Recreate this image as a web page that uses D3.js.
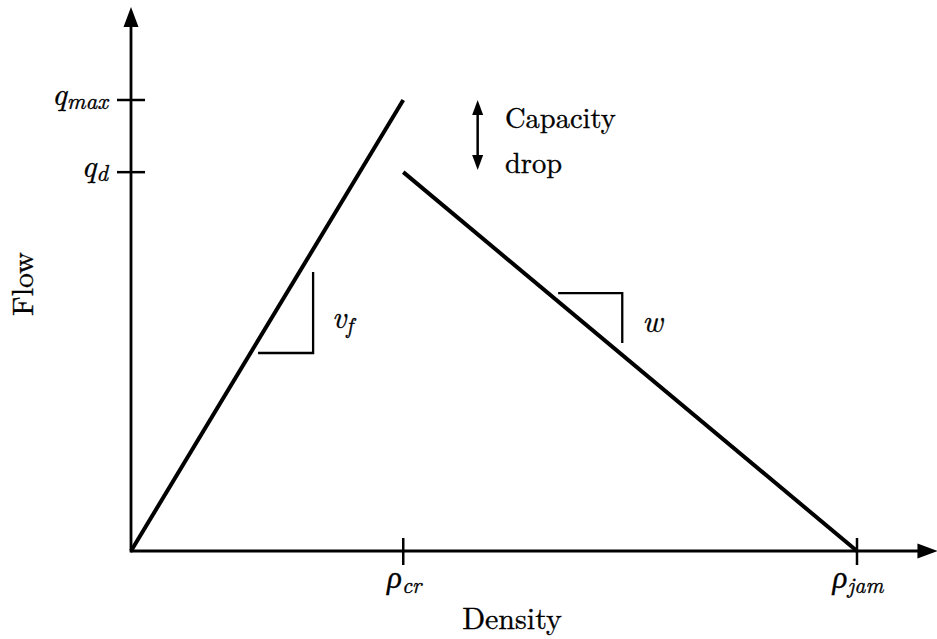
<!DOCTYPE html>
<html>
<head>
<meta charset="utf-8">
<script src="https://cdn.jsdelivr.net/npm/d3@7"></script>
<style>
  html, body { margin: 0; padding: 0; background: #fff; }
  svg { display: block; }
</style>
</head>
<body>
<svg id="chart" width="937" height="639"></svg>
<script>
// Triangular fundamental diagram with capacity drop
const densityTicks = [
  { key: "cr", value: 45 },
  { key: "jam", value: 120 }
];
const flowTicks = [
  { key: "max", value: 2000 },
  { key: "d", value: 1680 }
];
// Free-flow branch and congested branch (density, flow)
const freeFlowBranch = [[0, 0], [45, 2000]];
const congestedBranch = [[45, 1680], [120, 0]];
// Slope markers
const vfMarker = [[21, 878], [30.1, 878], [30.1, 1237]];
const wMarker = [[70.6, 1144], [81.2, 1144], [81.2, 922]];
const dropArrow = { density: 57.3, from: 2000, to: 1690 };

const FONT = '"Latin Modern Roman", "CMU Serif", "Liberation Serif", serif';

const svg = d3.select("#chart");
const x = d3.scaleLinear().domain([0, 120]).range([131, 857]);
const y = d3.scaleLinear().domain([0, 2000]).range([551, 100]);
const xEnd = 133.3, yEnd = 2412;

const line = d3.line().x(d => x(d[0])).y(d => y(d[1]));

function label(sel) {
  return sel.style("font-family", FONT).attr("fill", "#000")
    .attr("stroke", "#000").attr("stroke-width", 0.35);
}

// Axes
svg.append("line").attr("x1", x(0)).attr("y1", y(0)).attr("x2", x(xEnd) - 18).attr("y2", y(0))
  .attr("stroke", "#000").attr("stroke-width", 2.8);
svg.append("line").attr("x1", x(0)).attr("y1", y(0) + 1.4).attr("x2", x(0)).attr("y2", y(yEnd) + 18)
  .attr("stroke", "#000").attr("stroke-width", 2.8);
// Axis arrowheads
const ax = x(xEnd), ay = y(0);
svg.append("path").attr("d", `M${ax},${ay} L${ax - 20},${ay - 7.5} L${ax - 20},${ay + 7.5} Z`).attr("fill", "#000");
const bx = x(0), by = y(yEnd);
svg.append("path").attr("d", `M${bx},${by} L${bx - 7.5},${by + 20} L${bx + 7.5},${by + 20} Z`).attr("fill", "#000");

// Ticks
svg.selectAll(".xtick").data(densityTicks).join("line")
  .attr("x1", d => x(d.value)).attr("x2", d => x(d.value))
  .attr("y1", y(0) - 13).attr("y2", y(0) + 14)
  .attr("stroke", "#000").attr("stroke-width", 2.5);
svg.selectAll(".ytick").data(flowTicks).join("line")
  .attr("y1", d => y(d.value)).attr("y2", d => y(d.value))
  .attr("x1", x(0) - 14).attr("x2", x(0) + 14)
  .attr("stroke", "#000").attr("stroke-width", 2.5);

// Tick labels: rho_cr, rho_jam
svg.selectAll(".xlab").data(densityTicks).join("text")
  .call(label)
  .attr("x", d => x(d.value) + 1).attr("y", 588)
  .attr("text-anchor", "middle").attr("font-size", 31)
  .each(function(d) {
    const t = d3.select(this);
    t.append("tspan").attr("font-style", "italic").text("ρ");
    t.append("tspan").attr("font-style", "italic").attr("font-size", 22).attr("dy", 5).text(d.key);
  });
// Tick labels: q_max, q_d
svg.selectAll(".ylab").data(flowTicks).join("text")
  .call(label)
  .attr("x", x(0) - 23).attr("y", d => y(d.value) + 5)
  .attr("text-anchor", "end").attr("font-size", 32)
  .each(function(d) {
    const t = d3.select(this);
    t.append("tspan").attr("font-style", "italic").text("q");
    t.append("tspan").attr("font-style", "italic").attr("font-size", 23).attr("dy", 4).text(d.key);
  });

// Branches
[freeFlowBranch, congestedBranch].forEach(b => {
  svg.append("path").attr("d", line(b)).attr("fill", "none")
    .attr("stroke", "#000").attr("stroke-width", 4);
});

// Slope markers
[vfMarker, wMarker].forEach(m => {
  svg.append("path").attr("d", line(m)).attr("fill", "none")
    .attr("stroke", "#000").attr("stroke-width", 2.3);
});
svg.append("text").call(label).attr("x", x(vfMarker[2][0]) + 19).attr("y", 328).attr("font-size", 31)
  .call(t => {
    t.append("tspan").attr("font-style", "italic").text("v");
    t.append("tspan").attr("font-style", "italic").attr("font-size", 22).attr("dy", 5).text("f");
  });
svg.append("text").call(label).attr("x", x(wMarker[2][0]) + 20).attr("y", 332).attr("font-size", 31)
  .attr("font-style", "italic").text("w");

// Capacity drop double arrow
const cx = x(dropArrow.density), cy1 = y(dropArrow.from), cy2 = y(dropArrow.to);
svg.append("line").attr("x1", cx).attr("x2", cx).attr("y1", cy1 + 10).attr("y2", cy2 - 10)
  .attr("stroke", "#000").attr("stroke-width", 2.5);
svg.append("path").attr("d", `M${cx},${cy1} L${cx - 5.5},${cy1 + 15} L${cx + 5.5},${cy1 + 15} Z`).attr("fill", "#000");
svg.append("path").attr("d", `M${cx},${cy2} L${cx - 5.5},${cy2 - 15} L${cx + 5.5},${cy2 - 15} Z`).attr("fill", "#000");
svg.append("text").call(label).attr("x", 505).attr("y", 128).attr("font-size", 28.5).text("Capacity");
svg.append("text").call(label).attr("x", 505).attr("y", 173).attr("font-size", 28.5).text("drop");

// Axis titles
svg.append("text").call(label).attr("x", 512).attr("y", 629).attr("text-anchor", "middle").attr("font-size", 30).text("Density");
svg.append("text").call(label).attr("transform", "translate(33,284) rotate(-90)").attr("text-anchor", "middle")
  .attr("font-size", 30).text("Flow");
</script>
</body>
</html>
